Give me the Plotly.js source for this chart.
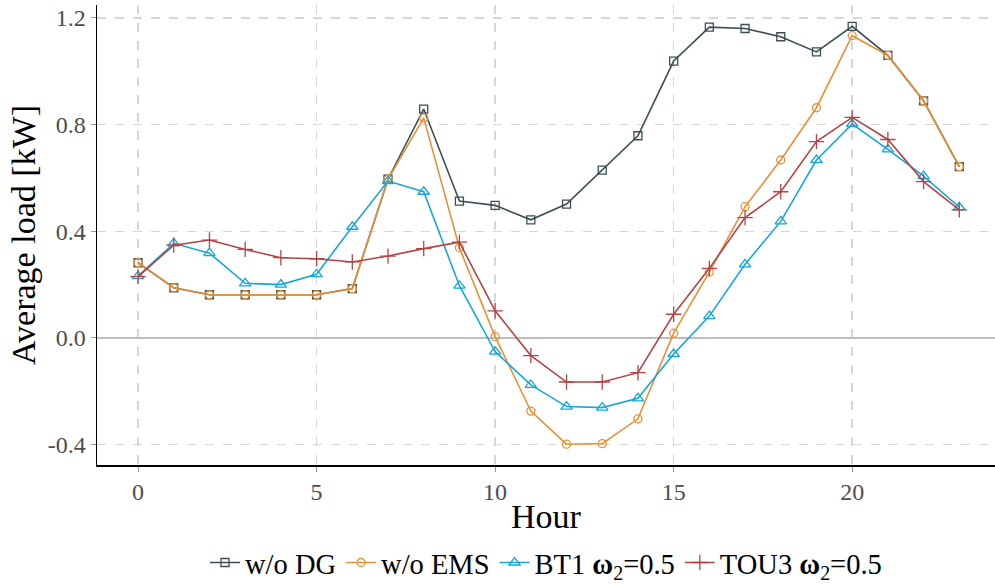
<!DOCTYPE html>
<html>
<head>
<meta charset="utf-8">
<script src="https://cdn.plot.ly/plotly-3.0.1.min.js"></script>
<style>html,body{margin:0;padding:0;background:#fff;}#chart{width:995px;height:584px;}</style>
</head>
<body>
<div id="chart"></div>
<script>
const hours = [0,1,2,3,4,5,6,7,8,9,10,11,12,13,14,15,16,17,18,19,20,21,22,23];
const woDG  = [0.282,0.188,0.162,0.162,0.162,0.162,0.185,0.595,0.858,0.513,0.497,0.443,0.502,0.629,0.758,1.038,1.165,1.160,1.129,1.072,1.168,1.059,0.889,0.642];
const woEMS = [0.282,0.188,0.162,0.162,0.162,0.162,0.185,0.595,0.825,0.338,0.005,-0.274,-0.398,-0.396,-0.303,0.018,0.247,0.492,0.667,0.863,1.133,1.059,0.889,0.642];
const bt1   = [0.232,0.355,0.318,0.205,0.200,0.239,0.417,0.588,0.548,0.196,-0.051,-0.176,-0.257,-0.261,-0.226,-0.060,0.082,0.276,0.437,0.667,0.802,0.707,0.607,0.490];
const tou3  = [0.230,0.348,0.367,0.332,0.301,0.297,0.285,0.307,0.335,0.359,0.102,-0.066,-0.165,-0.165,-0.130,0.089,0.261,0.451,0.548,0.736,0.827,0.744,0.586,0.480];
const seriesNames = ["w/o DG","w/o EMS","BT1 <b>ω</b><sub>2</sub>=0.5","TOU3 <b>ω</b><sub>2</sub>=0.5"];
const yTicks = [-0.4,0.0,0.4,0.8,1.2];
const yTickText = ["-0.4","0.0","0.4","0.8","1.2"];
const xTicks = [0,5,10,15,20];

const colors = ["#3b4f55","#e5913a","#17a6d6","#b34446"];
const symbols = ["square-open","circle-open","triangle-up-open","cross-thin-open"];
const sizes = [8,8,10,11];
const data = [woDG, woEMS, bt1, tou3].map((ys,i)=>({
  x: hours, y: ys, type:"scatter", mode:"lines+markers", name: seriesNames[i],
  line:{color:colors[i], width:1.6},
  marker:{symbol:symbols[i], size:sizes[i], color:colors[i], line:{color:colors[i], width:1.3}}
}));

const font = "Liberation Serif";
const layout = {
  width:995, height:584,
  margin:{l:97, r:0, t:5, b:119},
  paper_bgcolor:"#fff", plot_bgcolor:"#fff",
  font:{family:font, color:"#4d4d4d", size:24},
  showlegend:true,
  legend:{orientation:"h", x:0.5, xanchor:"center", xref:"paper",
          yref:"container", y:0.036, yanchor:"middle",
          font:{family:font, size:28.5, color:"#000"}, itemwidth:30, traceorder:"normal",
          bgcolor:"rgba(0,0,0,0)"},
  xaxis:{range:[-1.15,24.0], tickvals:xTicks, ticktext:xTicks.map(String),
         showgrid:true, gridcolor:"#d6d6d6", griddash:"dash", gridwidth:1.5,
         zeroline:false, showline:true, linecolor:"#000", linewidth:1.5,
         ticks:"outside", ticklen:5, tickcolor:"#999", tickwidth:1,
         tickfont:{family:font, size:24, color:"#4d4d4d"},
         title:{text:"Hour", font:{family:font, size:34, color:"#000"}, standoff:0}},
  yaxis:{range:[-0.476,1.248], tickvals:yTicks, ticktext:yTickText,
         showgrid:true, gridcolor:"#d6d6d6", griddash:"dash", gridwidth:1.5,
         zeroline:true, zerolinecolor:"#bdbdbd", zerolinewidth:2,
         showline:true, linecolor:"#000", linewidth:1.5,
         ticks:"outside", ticklen:5, tickcolor:"#999", tickwidth:1,
         tickfont:{family:font, size:24, color:"#4d4d4d"},
         title:{text:"Average load [kW]", font:{family:font, size:34, color:"#000"}, standoff:2}}
};
Plotly.newPlot("chart", data, layout, {displayModeBar:false, staticPlot:true});
</script>
</body>
</html>
